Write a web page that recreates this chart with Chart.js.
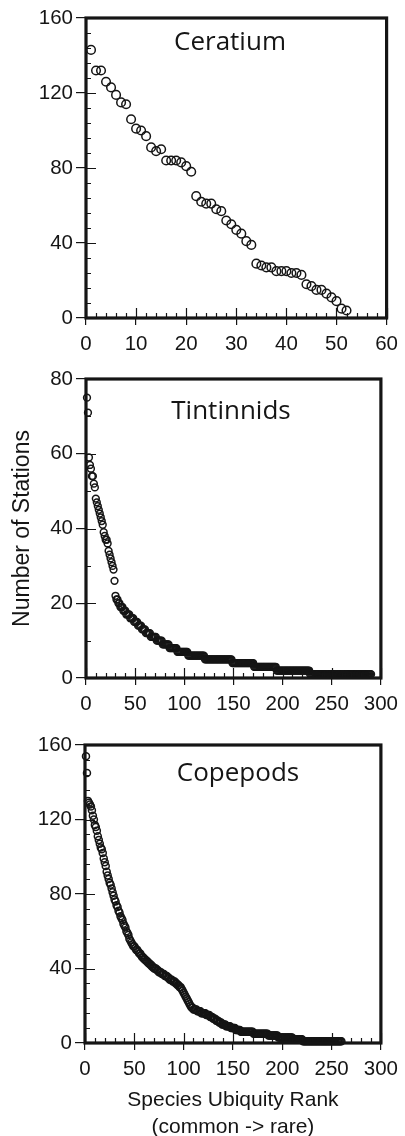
<!DOCTYPE html>
<html><head><meta charset="utf-8">
<script src="https://cdn.jsdelivr.net/npm/chart.js@4.4.1/dist/chart.umd.min.js"></script>
<style>
html,body{margin:0;padding:0;background:#fff;width:405px;height:1136px;overflow:hidden;position:relative;}
canvas{position:absolute;left:0;}
</style></head><body>
<canvas id="c1" width="405" height="360" style="top:0px"></canvas>
<canvas id="c2" width="405" height="360" style="top:360px"></canvas>
<canvas id="c3" width="405" height="420" style="top:725px"></canvas>
<script>
// ---------- data (number of stations per species, ordered by ubiquity rank) ----------
const ceratiumStations = [
  143,132,132,126,123,119,115,114,106,101,
  100,97,91,89,90,84,84,84,83,81,
  78,65,62,61,61,58,57,52,50,47,
  45,41,39,29,28,27,27,25,25,25,
  24,24,23,18,17,15,15,13,11,9,
  5,4
];
const tintinnidStations = [
  75,71,59,57,56,54,54,52,51,48,47,46,45,44,43,42,41,39,38,37,37,36,34,33,32,31,30,29,26,22,
  21,21,20,20,19,19,19,18,18,18,17,17,17,17,16,
  16,16,16,15,15,15,15,14,14,14,14,13,13,13,13,
  12,12,12,12,12,11,11,11,11,11,11,10,10,10,10,
  10,10,9,9,9,9,9,9,9,8,8,8,8,8,8,
  8,8,7,7,7,7,7,7,7,7,7,7,7,6,6,
  6,6,6,6,6,6,6,6,6,6,6,6,6,6,6,
  5,5,5,5,5,5,5,5,5,5,5,5,5,5,5,5,5,5,5,5,5,5,5,5,5,5,5,5,
  4,4,4,4,4,4,4,4,4,4,4,4,4,4,4,4,4,4,4,4,4,4,
  3,3,3,3,3,3,3,3,3,3,3,3,3,3,3,3,3,3,3,3,3,3,3,
  2,2,2,2,2,2,2,2,2,2,2,2,2,2,2,2,2,2,2,2,2,2,2,2,2,2,2,2,2,2,2,2,2,2,
  1,1,1,1,1,1,1,1,1,1,1,1,1,1,1,1,1,1,1,1,1,1,1,1,1,1,1,1,1,1,1,1,
  1,1,1,1,1,1,1,1,1,1,1,1,1,1,1,1,1,1,1,1,1,1,1,1,1,1,1,1,1,1,1
];
const copepodStations = [
  154,145,130,129,128,127,125,122,120,117,
  116,114,111,109,107,105,104,102,99,97,
  95,92,90,88,86,85,83,81,79,77,
  76,74,73,71,70,68,67,66,64,63,
  62,60,59,58,56,55,54,53,52,52,
  51,50,50,49,48,48,47,46,46,45,
  45,44,44,43,43,42,42,41,41,40,
  40,40,39,39,38,38,38,37,37,37,
  36,36,36,35,35,34,34,34,33,33,
  33,32,32,31,31,30,30,29,28,27,
  26,25,24,23,22,21,20,19,19,18,
  18,18,18,17,17,17,17,16,16,16,
  16,16,15,15,15,15,14,14,14,13,
  13,13,12,12,12,11,11,11,10,10,
  10,10,9,9,9,9,9,8,8,8,
  8,8,7,7,7,7,7,6,6,6,
  6,6,6,6,6,6,6,6,6,6,
  5,5,5,5,5,5,5,5,5,5,
  5,5,5,5,5,4,4,4,4,4,
  4,4,4,4,4,3,3,3,3,3,
  3,3,3,3,3,3,3,3,3,3,
  2,2,2,2,2,2,2,2,2,2,
  1,1,1,1,1,1,1,1,1,1,
  1,1,1,1,1,1,1,1,1,1,
  1,1,1,1,1,1,1,1,1,1,
  1,1,1,1,1,1,1,1,1,1
];

const ceratiumXTicks = [0,10,20,30,40,50,60];
const ceratiumYTicks = [0,40,80,120,160];
const tintinnidXTicks = [0,50,100,150,200,250,300];
const tintinnidYTicks = [0,20,40,60,80];
const copepodXTicks = [0,50,100,150,200,250,300];
const copepodYTicks = [0,40,80,120,160];

const panelNames = ['Ceratium','Tintinnids','Copepods'];
const yAxisTitle = 'Number of Stations';
const xAxisTitle = ['Species Ubiquity Rank','(common -> rare)'];

// ---------- helpers ----------
const INK = '#151515';
const TICK_FONT = {family:'"Liberation Sans", Arial, sans-serif', size:20.5};

const decorPlugin = {
  id:'decor',
  afterDraw(chart, args, o){
    const ctx = chart.ctx, ca = chart.chartArea;
    const xs = chart.scales.x, ys = chart.scales.y;
    ctx.save();
    ctx.strokeStyle = INK;
    ctx.lineWidth = 1.2;
    ctx.beginPath();
    for (let v = xs.min; v <= xs.max + 1e-9; v += o.xMinor) {
      const px = Math.round(xs.getPixelForValue(v)) + 0.5;
      const major = Math.abs(v / o.xMajor - Math.round(v / o.xMajor)) < 1e-6;
      const len = major ? 10 : 5;
      ctx.moveTo(px, ca.bottom); ctx.lineTo(px, ca.bottom - len);
    }
    for (let v = ys.min; v <= ys.max + 1e-9; v += o.yMinor) {
      const py = Math.round(ys.getPixelForValue(v)) + 0.5;
      const major = Math.abs(v / o.yMajor - Math.round(v / o.yMajor)) < 1e-6;
      const len = major ? 10 : 5;
      ctx.moveTo(ca.left, py); ctx.lineTo(ca.left + len, py);
    }
    ctx.stroke();
    ctx.lineWidth = 3.2;
    ctx.strokeRect(ca.left, ca.top, ca.right - ca.left, ca.bottom - ca.top);
    ctx.fillStyle = INK;
    ctx.font = '26px "Open Sans", "Noto Sans", sans-serif';
    ctx.textAlign = 'center';
    ctx.textBaseline = 'middle';
    ctx.fillText(o.name, ca.left + o.nameDx, ca.top + o.nameDy);
    ctx.restore();
  }
};

function makePanel(id, values, xTicks, yTicks, st) {
  const pts = values.map((v, i) => ({x: i + 1, y: v}));
  const yScale = {
    type:'linear', min:yTicks[0], max:yTicks[yTicks.length-1],
    afterBuildTicks: s => { s.ticks = yTicks.map(v => ({value:v})); },
    afterFit: s => { s.width = st.yWidth; },
    grid:{drawOnChartArea:false, drawTicks:true, tickLength:10, color:INK, lineWidth:1.2},
    border:{display:false},
    ticks:{padding:3, font:TICK_FONT, color:INK}
  };
  if (st.yTitle) {
    yScale.title = {display:true, text:st.yTitle, color:INK,
      font:{family:'"Liberation Sans", Arial, sans-serif', size:23}, padding:{top:9, bottom:0}};
  }
  const xScale = {
    type:'linear', min:xTicks[0], max:xTicks[xTicks.length-1],
    afterBuildTicks: s => { s.ticks = xTicks.map(v => ({value:v})); },
    afterFit: s => { s.height = st.xHeight; },
    grid:{drawOnChartArea:false, drawTicks:true, tickLength:7, color:INK, lineWidth:1.2},
    border:{display:false},
    ticks:{padding:7, font:TICK_FONT, color:INK, maxRotation:0, autoSkip:false}
  };
  if (st.xTitle) {
    xScale.title = {display:true, text:st.xTitle, color:INK,
      font:{family:'"Liberation Sans", Arial, sans-serif', size:21, lineHeight:1.3}, padding:{top:0, bottom:4}};
  }
  return new Chart(document.getElementById(id), {
    type:'scatter',
    data:{datasets:[{
      data:pts, showLine:false, clip:false,
      pointStyle:'circle', pointRadius:st.r, pointBorderWidth:st.bw,
      pointBackgroundColor:'rgba(0,0,0,0)', pointBorderColor:INK
    }]},
    options:{
      responsive:false, animation:false, events:[],
      layout:{autoPadding:false, padding:{left:0, top:st.padTop, right:st.padRight, bottom:0}},
      scales:{x:xScale, y:yScale},
      plugins:{legend:{display:false}, tooltip:{enabled:false},
        decor:{name:st.name, nameDx:st.nameDx, nameDy:st.nameDy,
               xMajor:st.xMajor, xMinor:st.xMinor, yMajor:st.yMajor, yMinor:st.yMinor}}
    },
    plugins:[decorPlugin]
  });
}

makePanel('c1', ceratiumStations, ceratiumXTicks, ceratiumYTicks, {
  yWidth:86, xHeight:42, padTop:18, padRight:18, r:4.3, bw:1.5,
  name:panelNames[0], nameDx:144, nameDy:25,
  xMajor:10, xMinor:2, yMajor:40, yMinor:8
});
makePanel('c2', tintinnidStations, tintinnidXTicks, tintinnidYTicks, {
  yWidth:86, xHeight:42, padTop:19, padRight:18, r:3.4, bw:1.5,
  name:panelNames[1], nameDx:145, nameDy:33, yTitle:yAxisTitle,
  xMajor:50, xMinor:10, yMajor:20, yMinor:10
});
makePanel('c3', copepodStations, copepodXTicks, copepodYTicks, {
  yWidth:85, xHeight:102, padTop:20, padRight:21, r:3.5, bw:1.5,
  name:panelNames[2], nameDx:153, nameDy:28.5, xTitle:xAxisTitle,
  xMajor:50, xMinor:10, yMajor:40, yMinor:8
});
</script>
</body></html>
